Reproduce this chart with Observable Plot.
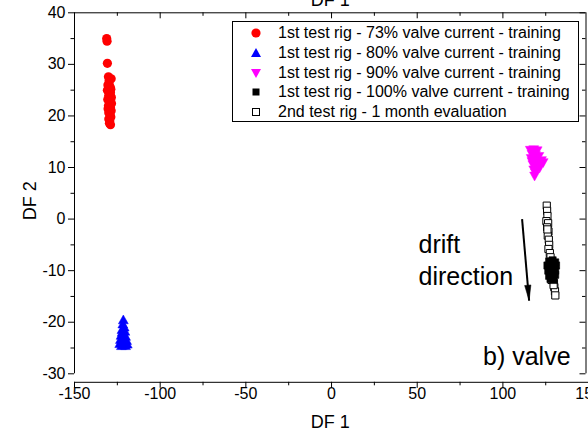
<!DOCTYPE html>
<html>
<head>
<meta charset="utf-8">
<script src="https://cdn.jsdelivr.net/npm/d3@7"></script>
<script src="https://cdn.jsdelivr.net/npm/@observablehq/plot@0.6"></script>
<style>
  html, body { margin: 0; padding: 0; background: #fff; overflow: hidden; }
  #wrap { position: relative; width: 588px; height: 431px; font-family: "Liberation Sans", Arial, sans-serif; }
  #legend { position: absolute; left: 232px; top: 21px; width: 347px; height: 101px; border: 1px solid #000; background: #fff; box-sizing: border-box; }
  .row { position: absolute; left: 0; height: 20px; display: flex; align-items: center; font-size: 16px; color: #000; white-space: nowrap; }
  .row svg { width: 20px; height: 20px; margin-left: 13px; margin-right: 12px; flex: none; }
</style>
</head>
<body>
<div id="wrap"><div id="chart"></div><div id="legend"></div></div>
<script>
// ---- data ----
const seriesNames = [
  "1st test rig - 73% valve current - training",
  "1st test rig - 80% valve current - training",
  "1st test rig - 90% valve current - training",
  "1st test rig - 100% valve current - training",
  "2nd test rig - 1 month evaluation"
];
const red73X = [-131.2,-131.0,-130.8,-130.2,-128.6,-129.8,-130.5,-129.2,-130.8,-129.0,-130.0,-128.5,-130.6,-129.4,-128.4,-130.2,-129.0,-128.6,-130.0,-129.2,-128.8,-130.0,-129.4,-129.6,-129.0,-130.4,-129.6,-128.8,-129.8];
const red73Y = [35.0,34.5,30.2,27.6,27.2,26.8,26.0,25.6,25.0,24.5,24.0,23.6,23.2,22.8,22.4,22.0,21.6,21.0,20.6,20.2,19.8,19.4,19.0,18.6,18.3,21.4,23.6,25.2,26.2];
const blue80X = [-121.5,-121.8,-121.0,-122.3,-120.6,-121.6,-122.8,-120.2,-121.2,-123.2,-119.6,-122.0,-120.8,-123.6,-119.2,-121.6,-122.6,-120.2,-121.0,-122.2];
const blue80Y = [-19.6,-20.4,-21.0,-21.5,-21.8,-22.2,-22.6,-22.8,-23.0,-23.4,-23.6,-23.8,-24.0,-24.2,-24.3,-24.5,-24.6,-24.6,-23.4,-22.0];
const mag90X = [116.0,118.0,120.0,117.0,119.0,121.0,116.5,118.5,122.5,123.5,120.5,117.5,119.5,121.5,118.0,119.0,118.5,117.0,120.0];
const mag90Y = [13.4,13.5,13.3,12.6,12.4,12.2,11.8,11.5,11.4,11.0,11.0,10.6,10.2,10.0,9.6,9.0,8.4,11.2,12.0];
const blk100X = [127.0,129.0,130.5,126.0,128.0,130.0,131.0,126.5,128.5,130.5,127.0,129.0,130.5,127.8,129.6,128.2,129.2];
const blk100Y = [-8.2,-8.0,-8.4,-9.0,-9.2,-9.4,-9.0,-10.0,-10.2,-10.0,-11.0,-11.2,-10.8,-11.6,-11.8,-9.8,-8.8];
const evalX = [125.6,125.8,126.0,125.4,126.4,125.8,126.6,126.2,126.8,127.0,126.6,127.4,127.8,128.4,127.6,128.8,129.2,128.4,129.8,130.0,130.4,130.6,129.6,126.0];
const evalY = [2.6,1.6,0.6,-0.4,-0.8,-1.6,-2.4,-3.2,-4.0,-5.0,-5.8,-6.6,-7.4,-8.4,-9.4,-10.2,-11.0,-11.8,-12.4,-13.2,-14.0,-14.8,-12.8,-2.0];

const xDomain = [-150, 148.5];
const yDomain = [-30, 40];
const xMajor = [-150, -100, -50, 0, 50, 100, 150];
const xMinor = [-125, -75, -25, 25, 75, 125];
const yMajor = [-30, -20, -10, 0, 10, 20, 30, 40];
const yMinor = [-25, -15, -5, 5, 15, 25, 35];
const arrowData = [{x1: 111.2, y1: 0.0, x2: 115.3, y2: -15.8}];
const leftNotes = [
  {x: 50.8, y: -5.1, text: "drift"},
  {x: 50.8, y: -11.3, text: "direction"}
];
const rightNotes = [{x: 139.5, y: -26.8, text: "b) valve"}];

const zip = (xs, ys) => xs.map((x, i) => ({x, y: ys[i]}));

// custom symbols (size = pi r^2)
const rOf = s => Math.sqrt(s / Math.PI);
const triUp = {draw(c, s) { const r = rOf(s); c.moveTo(0, -1.2 * r); c.lineTo(1.15 * r, 0.85 * r); c.lineTo(-1.15 * r, 0.85 * r); c.closePath(); }};
const triDown = {draw(c, s) { const r = rOf(s); c.moveTo(0, 1.2 * r); c.lineTo(1.15 * r, -0.85 * r); c.lineTo(-1.15 * r, -0.85 * r); c.closePath(); }};
const sq = {draw(c, s) { const r = rOf(s); c.rect(-r, -r, 2 * r, 2 * r); }};
const head = {draw(c, s) { const r = rOf(s); c.moveTo(0, 0); c.lineTo(0.45 * r, -2.2 * r); c.lineTo(-0.45 * r, -2.2 * r); c.closePath(); }};

const W = 588, H = 431, mL = 74, mR = 2.5, mT = 12.3, mB = 57.7;
const fw = W - mL - mR, fh = H - mT - mB;
const font = "Liberation Sans, Arial, sans-serif";

const chart = Plot.plot({
  width: W, height: H,
  marginLeft: mL, marginRight: mR, marginTop: mT, marginBottom: mB,
  style: {fontFamily: font, background: "#fff", overflow: "hidden"},
  x: {domain: xDomain, axis: null},
  y: {domain: yDomain, axis: null},
  marks: [
    // frame lines (left, right, top)
    Plot.ruleX([xDomain[0], xDomain[1]], {stroke: "#000", strokeWidth: 1}),
    Plot.ruleY([yDomain[1]], {stroke: "#000", strokeWidth: 1}),
    // detached bottom axis line
    Plot.ruleY([yDomain[0]], {x1: xMajor[0], x2: xMajor[xMajor.length - 1], dy: 8.5, stroke: "#000"}),
    // bottom ticks & labels
    Plot.axisX({anchor: "bottom", ticks: xMajor, tickSize: 6, dy: 8.5, tickPadding: -1, fontSize: 16, tickFormat: d => String(d), label: null}),
    Plot.axisX({anchor: "bottom", ticks: xMinor, tickSize: 3.5, dy: 8.5, tickFormat: () => "", label: null}),
    // left ticks & labels
    Plot.axisY({anchor: "left", ticks: yMajor, tickSize: 6, tickPadding: 3, fontSize: 16, tickFormat: d => String(d), label: null}),
    Plot.axisY({anchor: "left", ticks: yMinor, tickSize: 3.5, tickFormat: () => "", label: null}),
    // inward ticks top
    Plot.ruleX(xMajor.filter(d => d > xDomain[0] && d < xDomain[1]), {x: d => d, insetBottom: fh - 6, stroke: "#000"}),
    Plot.ruleX(xMinor, {x: d => d, insetBottom: fh - 3.5, stroke: "#000"}),
    // inward ticks right
    Plot.ruleY(yMajor, {y: d => d, insetLeft: fw - 6, stroke: "#000"}),
    Plot.ruleY(yMinor, {y: d => d, insetLeft: fw - 3.5, stroke: "#000"}),
    // axis titles
    Plot.text(["DF 1"], {frameAnchor: "bottom", dy: 48, lineAnchor: "middle", fontSize: 18, fill: "#000"}),
    Plot.text(["DF 1"], {frameAnchor: "top", dy: -7, lineAnchor: "bottom", fontSize: 18, fill: "#000"}),
    Plot.text(["DF 2"], {frameAnchor: "left", dx: -44, dy: 27, rotate: -90, lineAnchor: "middle", fontSize: 18, fill: "#000"}),
    // data
    Plot.dot(zip(evalX, evalY), {x: "x", y: "y", symbol: sq, r: 3.6, fill: "#fff", stroke: "#000", strokeWidth: 1}),
    Plot.dot(zip(blk100X, blk100Y), {x: "x", y: "y", symbol: sq, r: 3.6, fill: "#000", stroke: "#000", strokeWidth: 0.6}),
    Plot.dot(zip(mag90X, mag90Y), {x: "x", y: "y", symbol: triDown, r: 4.3, fill: "#ff00ff", stroke: "#ff00ff", strokeWidth: 0.5}),
    Plot.dot(zip(blue80X, blue80Y), {x: "x", y: "y", symbol: triUp, r: 4.3, fill: "#0000ff", stroke: "#0000ff", strokeWidth: 0.5}),
    Plot.dot(zip(red73X, red73Y), {x: "x", y: "y", r: 4.6, fill: "#ff0000", stroke: "none"}),
    // annotations
    Plot.link(arrowData, {x1: "x1", y1: "y1", x2: "x2", y2: "y2", stroke: "#000", strokeWidth: 2}),
    Plot.dot(arrowData, {x: "x2", y: "y2", symbol: head, r: 7, fill: "#000", stroke: "#000", strokeWidth: 0.5, rotate: -5}),
    Plot.text(leftNotes, {x: "x", y: "y", text: "text", textAnchor: "start", lineAnchor: "middle", fontSize: 25, fill: "#000"}),
    Plot.text(rightNotes, {x: "x", y: "y", text: "text", textAnchor: "end", lineAnchor: "middle", fontSize: 25, fill: "#000"})
  ]
});
document.getElementById("chart").appendChild(chart);

// legend
const legend = document.getElementById("legend");
const legendSymbols = [
  '<circle cx="10" cy="10" r="4.6" fill="#ff0000"/>',
  '<path d="M10,5 L15,14 L5,14 Z" fill="#0000ff"/>',
  '<path d="M10,15 L15,6 L5,6 Z" fill="#ff00ff"/>',
  '<rect x="6.5" y="6.5" width="7" height="7" fill="#000"/>',
  '<rect x="6.5" y="6.5" width="7" height="7" fill="#fff" stroke="#000" stroke-width="1"/>'
];
seriesNames.forEach((name, i) => {
  const row = document.createElement("div");
  row.className = "row";
  row.style.top = (1 + i * 19.8) + "px";
  row.innerHTML = `<svg viewBox="0 0 20 20">${legendSymbols[i]}</svg><span>${name}</span>`;
  legend.appendChild(row);
});
</script>
</body>
</html>
